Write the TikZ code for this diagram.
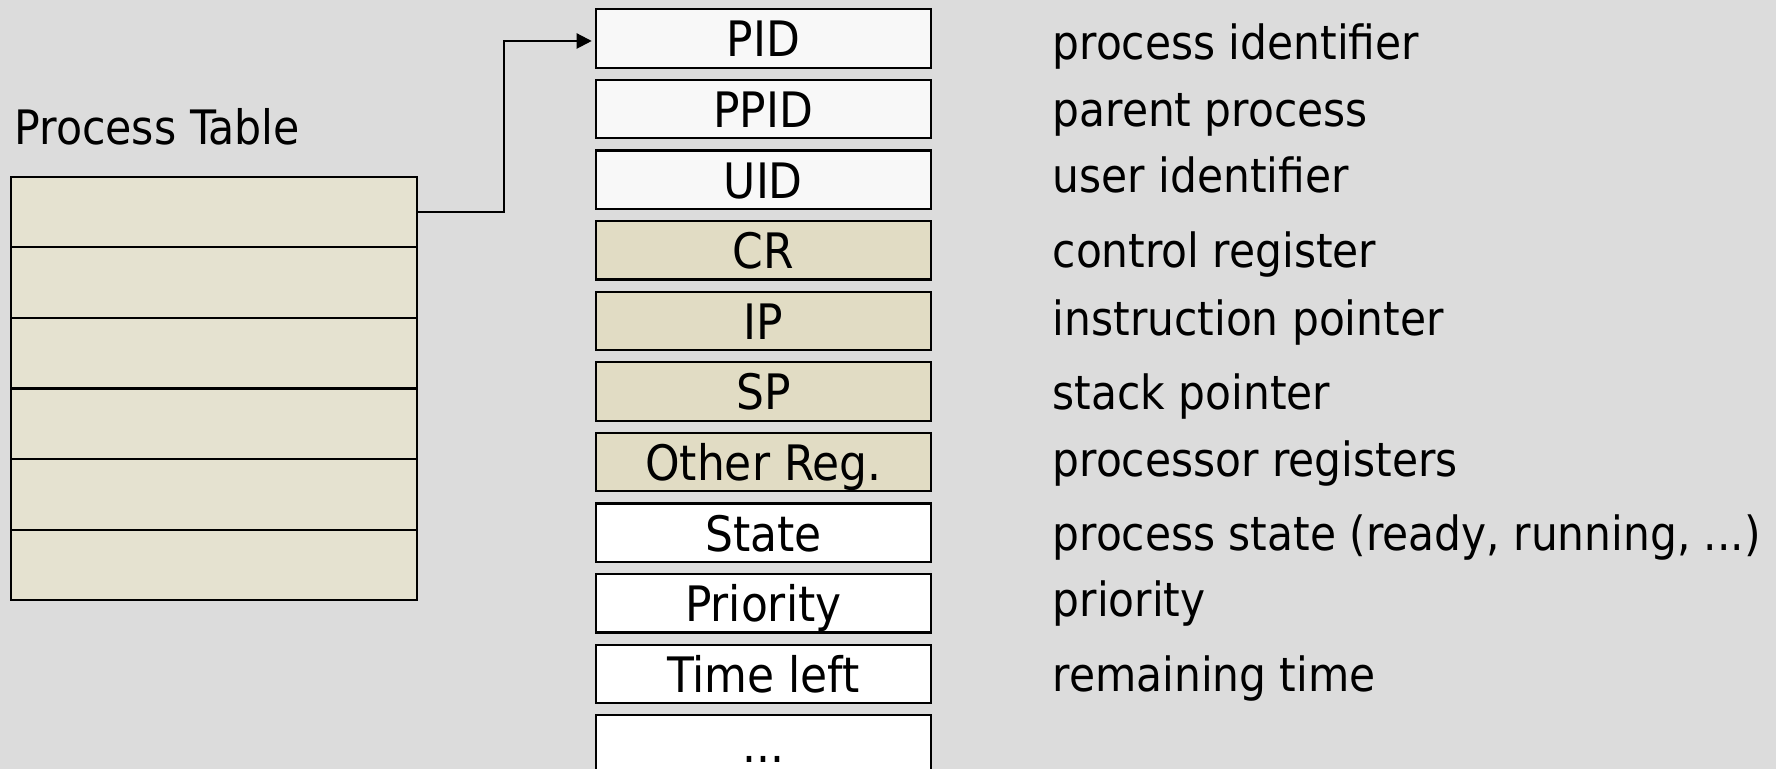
\documentclass[tikz,border=0pt]{standalone}
\usepackage{fontspec}
\setmainfont{DejaVu Sans Condensed}
\usetikzlibrary{arrows.meta}

\definecolor{slidebg}{RGB}{220,220,220}
\definecolor{tabfill}{RGB}{229,226,208}
\definecolor{regfill}{RGB}{225,220,196}
\definecolor{idfill}{RGB}{248,248,248}

\tikzset{
	cell/.style={draw=black, line width=0.6pt, inner sep=0pt, outer sep=0pt,
		minimum width=3.347cm, minimum height=0.584cm,
		text height=0.37cm, text depth=0pt,
		font=\fontsize{13.9}{16}\selectfont},
	idbox/.style={cell, fill=idfill},
	regbox/.style={cell, fill=regfill},
	infobox/.style={cell, fill=white},
	tabrow/.style={draw=black, line width=0.6pt, fill=tabfill, inner sep=0pt, outer sep=0pt,
		minimum width=4.06cm, minimum height=0.706cm},
	desc/.style={anchor=base west, inner sep=0pt, font=\fontsize{13.4}{16}\selectfont}
}

\begin{document}
\begin{tikzpicture}
	\fill[slidebg] (0,0) rectangle (17.76,-7.69);
	\useasboundingbox (0,0) rectangle (17.76,-7.69);

	% process table
	\node[anchor=base west, inner sep=0pt, font=\fontsize{13.5}{16}\selectfont] (title) at (0.14,-1.45) {Process Table};
	\node[tabrow] (r1) at (2.14,-2.12) {};
	\node[tabrow] (r2) at (2.14,-2.826) {};
	\node[tabrow] (r3) at (2.14,-3.532) {};
	\node[tabrow] (r4) at (2.14,-4.238) {};
	\node[tabrow] (r5) at (2.14,-4.944) {};
	\node[tabrow] (r6) at (2.14,-5.65) {};

	% process control block
	\node[idbox] (pid) at (7.633,-0.385) {PID};
	\node[idbox] (ppid) at (7.633,-1.091) {PPID};
	\node[idbox] (uid) at (7.633,-1.797) {UID};
	\node[regbox] (cr) at (7.633,-2.503) {CR};
	\node[regbox] (ip) at (7.633,-3.209) {IP};
	\node[regbox] (sp) at (7.633,-3.915) {SP};
	\node[regbox] (oreg) at (7.633,-4.621) {Other Reg.};
	\node[infobox] (state) at (7.633,-5.327) {State};
	\node[infobox] (prio) at (7.633,-6.033) {Priority};
	\node[infobox] (tleft) at (7.633,-6.739) {Time left};
	\node[infobox] (more) at (7.633,-7.445) {...};

	% entry points to its block
	\coordinate (turn) at (5.04,-2.12);
	\draw[line width=0.6pt, -{Triangle[length=4.3pt,width=4.3pt]}, shorten >=1.2pt] (r1.east) -- (turn) |- ([yshift=-0.025cm]pid.west);

	% meaning of each field
	\node[desc] (dpid) at (10.52,-0.60) {process identifier};
	\node[desc] (dppid) at (10.52,-1.27) {parent process};
	\node[desc] (duid) at (10.52,-1.93) {user identifier};
	\node[desc] (dcr) at (10.52,-2.68) {control register};
	\node[desc] (dip) at (10.52,-3.36) {instruction pointer};
	\node[desc] (dsp) at (10.52,-4.10) {stack pointer};
	\node[desc] (doreg) at (10.52,-4.77) {processor registers};
	\node[desc] (dstate) at (10.52,-5.51) {process state (ready, running, ...)};
	\node[desc] (dprio) at (10.52,-6.17) {priority};
	\node[desc] (dtleft) at (10.52,-6.92) {remaining time};
\end{tikzpicture}
\end{document}
